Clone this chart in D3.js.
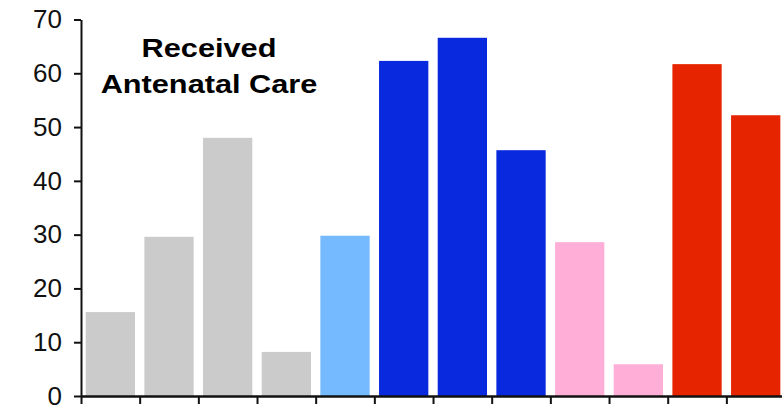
<!DOCTYPE html>
<html>
<head>
<meta charset="utf-8">
<script src="https://cdn.jsdelivr.net/npm/d3@7"></script>
<style>
  html, body { margin: 0; padding: 0; background: #fff; }
  svg { display: block; }
</style>
</head>
<body>
<svg id="chart" width="782" height="407"></svg>
<script>
// Data
const categories = ["c1","c2","c3","c4","c5","c6","c7","c8","c9","c10","c11","c12"];
const values = [15.6, 29.6, 48.0, 8.2, 29.8, 62.3, 66.6, 45.7, 28.6, 5.9, 61.7, 52.2];
const groups = ["gray","gray","gray","gray","lightblue","blue","blue","blue","pink","pink","red","red"];
const groupColors = {gray:"#cbcbcb", lightblue:"#75b9ff", blue:"#0829dd", pink:"#ffaed8", red:"#e62500"};
const yTicks = [0, 10, 20, 30, 40, 50, 60, 70];
const titleLines = ["Received", "Antenatal Care"];

const svg = d3.select("#chart");
const x0 = 81, step = 58.67;
const x = d3.scaleBand()
  .domain(categories)
  .range([x0, x0 + step * categories.length])
  .paddingInner(0.16)
  .paddingOuter(0.08);
const y = d3.scaleLinear().domain([0, 70]).range([396, 19.5]);

// Bars
svg.append("g").selectAll("rect")
  .data(categories)
  .join("rect")
  .attr("x", d => x(d))
  .attr("width", x.bandwidth())
  .attr("y", (d, i) => y(values[i]))
  .attr("height", (d, i) => y(0) - y(values[i]))
  .attr("fill", (d, i) => groupColors[groups[i]]);

// Y axis
const yAxis = d3.axisLeft(y).tickValues(yTicks).tickSize(7).tickPadding(12).tickSizeOuter(0);
const gy = svg.append("g").attr("transform", `translate(${x0},0)`).call(yAxis);
gy.select(".domain").attr("stroke", "#111").attr("stroke-width", 2);
gy.selectAll(".tick line").attr("stroke", "#111").attr("stroke-width", 2);
gy.selectAll(".tick text")
  .attr("font-family", "'Liberation Sans', Arial, sans-serif")
  .attr("font-size", 26)
  .attr("fill", "#111");

// X axis: line + ticks at band boundaries
const bounds = d3.range(categories.length + 1).map(i => x.range()[0] + i * x.step());
const xAxis = d3.axisBottom(d3.scaleLinear().domain([0, categories.length]).range([bounds[0], bounds[bounds.length-1]]))
  .tickValues(d3.range(categories.length + 1))
  .tickSize(8).tickSizeOuter(0).tickFormat("");
const gx = svg.append("g").attr("transform", `translate(0,${y(0)})`).call(xAxis);
gx.select(".domain").attr("stroke", "#111").attr("stroke-width", 2.5);
gx.selectAll(".tick line").attr("stroke", "#111").attr("stroke-width", 2);

// Title
const title = svg.append("g").attr("transform", "translate(209,0) scale(1.2,1)");
title.selectAll("text")
  .data(titleLines)
  .join("text")
  .attr("x", 0)
  .attr("y", (d, i) => 56.7 + i * 36.6)
  .attr("text-anchor", "middle")
  .attr("font-family", "'Liberation Sans', Arial, sans-serif")
  .attr("font-weight", "bold")
  .attr("font-size", 25.6)
  .attr("fill", "#000")
  .text(d => d);
</script>
</body>
</html>
